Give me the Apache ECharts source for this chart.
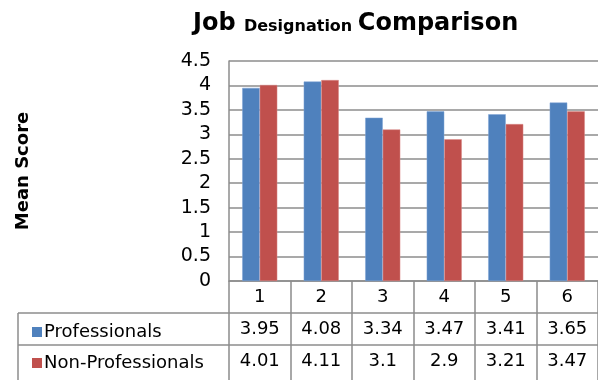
<!DOCTYPE html>
<html><head><meta charset="utf-8">
<script src="https://cdn.jsdelivr.net/npm/echarts@6/dist/echarts.min.js"></script>
<style>html,body{margin:0;padding:0;background:#fff}#c{width:598px;height:380px}</style>
</head><body><div id="c"></div>
<script>
var categories = ['1','2','3','4','5','6'];
var professionals = [3.95, 4.08, 3.34, 3.47, 3.41, 3.65];
var nonProfessionals = [4.01, 4.11, 3.1, 2.9, 3.21, 3.47];
var seriesNames = ['Professionals', 'Non-Professionals'];
var yTicks = {min: 0, max: 4.5, interval: 0.5};

var FONT = 'DejaVu Sans';
var GRID_LEFT = 229, GRID_TOP = 61, GRID_BOTTOM_Y = 281, CAT_W = 63.4;
var chart = echarts.init(document.getElementById('c'), null, {renderer: 'canvas'});
var option = {
  animation: false,
  textStyle: {fontFamily: FONT},
  title: {
    text: '{a|Job }{b|Designation }{a|Comparison}',
    left: 188, top: 4,
    textStyle: {rich: {
      a: {fontFamily: FONT, fontWeight: 'bold', fontSize: 24, color: '#000', lineHeight: 30},
      b: {fontFamily: FONT, fontWeight: 'bold', fontSize: 16, color: '#000', lineHeight: 24, padding: [6, 0, 0, 0]}
    }}
  },
  legend: {
    orient: 'vertical', left: 27, top: 318, icon: 'rect',
    itemWidth: 10, itemHeight: 10, itemGap: 13,
    itemStyle: {borderWidth: 0},
    textStyle: {fontFamily: FONT, fontSize: 18, color: '#000', padding: [0,0,0,-3]},
    data: seriesNames
  },
  grid: {left: GRID_LEFT, top: GRID_TOP, width: CAT_W * categories.length, height: GRID_BOTTOM_Y - GRID_TOP, containLabel: false},
  xAxis: {
    type: 'category', data: categories,
    axisLine: {lineStyle: {color: '#8c8c8c', width: 1.5}},
    axisTick: {show: true, length: 100, lineStyle: {color: '#8c8c8c', width: 1.5}},
    axisLabel: {
      margin: 0, interval: 0,
      formatter: function (v, i) {
        return '{c|' + v + '}\n{v|' + professionals[i] + '}\n{v|' + nonProfessionals[i] + '}';
      },
      rich: {
        c: {fontFamily: FONT, fontSize: 18, color: '#000', lineHeight: 32, align: 'center'},
        v: {fontFamily: FONT, fontSize: 18, color: '#000', lineHeight: 32, align: 'center'}
      }
    },
    splitLine: {show: false}
  },
  yAxis: {
    type: 'value', min: yTicks.min, max: yTicks.max, interval: yTicks.interval,
    name: 'Mean Score', nameLocation: 'middle', nameRotate: 90, nameGap: 197,
    nameTextStyle: {fontFamily: FONT, fontWeight: 'bold', fontSize: 18, color: '#000'},
    axisLine: {show: true, lineStyle: {color: '#8c8c8c', width: 1.5}},
    axisTick: {show: false},
    axisLabel: {fontFamily: FONT, fontSize: 19, color: '#000', margin: 18},
    splitLine: {lineStyle: {color: '#8c8c8c', width: 1.5}}
  },
  series: [
    {name: seriesNames[0], type: 'bar', data: professionals, barGap: '0%', barCategoryGap: '43%',
     itemStyle: {color: '#4F81BD', borderColor: '#7fa4d6', borderWidth: 0.5}},
    {name: seriesNames[1], type: 'bar', data: nonProfessionals, barGap: '0%', barCategoryGap: '43%',
     itemStyle: {color: '#C0504D', borderColor: '#d98a88', borderWidth: 0.5}}
  ]
};
chart.setOption(option);
// table borders derived from the grid
var y0 = chart.convertToPixel({gridIndex: 0}, [0, 0])[1];
var rowH = 32;
var lineStyle = {stroke: '#8c8c8c', lineWidth: 1.5};
chart.setOption({graphic: [
  {type: 'line', shape: {x1: 18, y1: y0 + rowH, x2: 598, y2: y0 + rowH}, style: lineStyle},
  {type: 'line', shape: {x1: 18, y1: y0 + 2 * rowH, x2: 598, y2: y0 + 2 * rowH}, style: lineStyle},
  {type: 'line', shape: {x1: 18, y1: y0 + rowH, x2: 18, y2: 380}, style: lineStyle}
]});
</script></body></html>
